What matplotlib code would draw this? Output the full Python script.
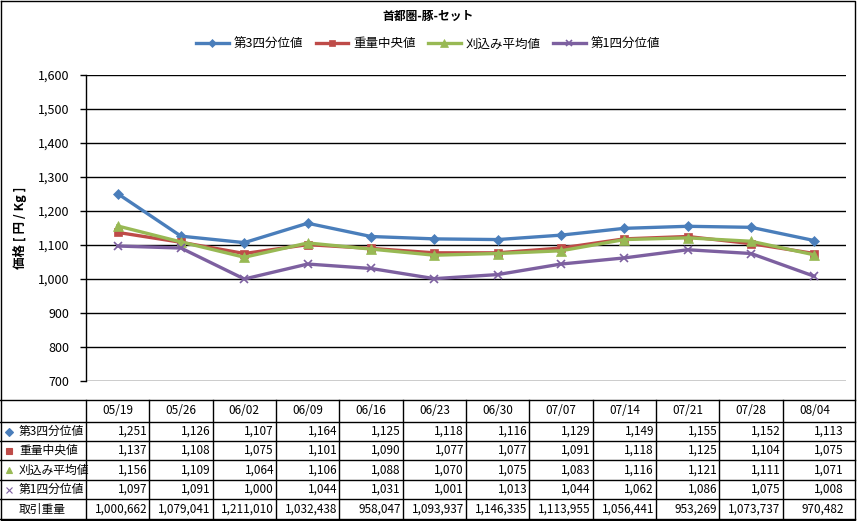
#!/usr/bin/env python

import matplotlib
matplotlib.use("Agg")
import matplotlib.pyplot as plt
from matplotlib.lines import Line2D

plt.rcParams['font.family'] = ['Noto Sans CJK JP', 'DejaVu Sans']

weeks = ["05/19", "05/26", "06/02", "06/09", "06/16", "06/23",
         "06/30", "07/07", "07/14", "07/21", "07/28", "08/04"]
q3 = [1251, 1126, 1107, 1164, 1125, 1118, 1116, 1129, 1149, 1155, 1152, 1113]
median_w = [1137, 1108, 1075, 1101, 1090, 1077, 1077, 1091, 1118, 1125, 1104, 1075]
trim_mean = [1156, 1109, 1064, 1106, 1088, 1070, 1075, 1083, 1116, 1121, 1111, 1071]
q1 = [1097, 1091, 1000, 1044, 1031, 1001, 1013, 1044, 1062, 1086, 1075, 1008]
volume = [1000662, 1079041, 1211010, 1032438, 958047, 1093937,
          1146335, 1113955, 1056441, 953269, 1073737, 970482]

names = ["第3四分位値", "重量中央値", "刈込み平均値", "第1四分位値"]
series = [q3, median_w, trim_mean, q1]
colors = ["#4A7EBB", "#BE4B48", "#98B954", "#7D60A0"]
markers = ["D", "s", "^", "x"]
msizes = [5, 6, 7, 6]

W, H = 857, 521
fig = plt.figure(figsize=(W / 100, H / 100), dpi=100)

# plot area in pixel terms
left, right, top, bottom = 86, 846, 75, 381
ax = fig.add_axes([left / W, 1 - bottom / H, (right - left) / W, (bottom - top) / H])
x = list(range(len(weeks)))
for vals, name, c, m, ms in zip(series, names, colors, markers, msizes):
    ax.plot(x, vals, color=c, lw=2.4, marker=m, ms=ms, mew=1.2 if m == "x" else 0.5,
            mec=c, mfc=c, label=name, zorder=3)

ax.set_xlim(-0.5, len(weeks) - 0.5)
ax.set_ylim(700, 1600)
ax.set_yticks(range(700, 1601, 100))
ax.set_yticklabels([f"{v:,}" for v in range(700, 1601, 100)], fontsize=9)
ax.set_xticks([])
ax.grid(axis="y", color="black", lw=1)
ax.set_axisbelow(True)
for s in ["top", "right", "bottom"]:
    ax.spines[s].set_visible(False)
ax.spines["left"].set_linewidth(1)
ax.tick_params(axis="y", length=4, width=1, pad=8)

fig.text(20 / W, 1 - 228 / H, "価格 [ 円 / Kg ]", ha="center", va="center",
         rotation=90, fontsize=9, fontweight="bold")
fig.text(428 / W, 1 - 16 / H, "首都圏-豚-セット", ha="center", va="center",
         fontsize=8.5, fontweight="bold")
fig.legend(loc="center", bbox_to_anchor=(428 / W, 1 - 44 / H), ncol=4, frameon=False,
           fontsize=9, handlelength=2.6, columnspacing=1.0, handletextpad=0.4,
           markerscale=0.8)

# overlay in pixel coordinates for the data table and the border
ov = fig.add_axes([0, 0, 1, 1], facecolor="none")
ov.set_xlim(0, W)
ov.set_ylim(H, 0)
ov.axis("off")
ov.plot([0.5, W - 2, W - 2, 0.5, 0.5], [0.5, 0.5, H - 1, H - 1, 0.5], color="black", lw=1)

cw = (right - left) / len(weeks)
row_edges = [400, 422, 441, 460, 480, 499, 519]
for y in row_edges:
    ov.plot([0, W - 2], [y, y], color="black", lw=1)
for k in range(len(weeks)):
    xe = left + cw * k
    ov.plot([xe, xe], [row_edges[0], row_edges[-1]], color="black", lw=1)

fs = 8.5
for k, wk in enumerate(weeks):
    xc = left + cw * (k + 0.5)
    ov.text(xc, (row_edges[0] + row_edges[1]) / 2, wk, ha="center", va="center", fontsize=fs)

rows = series + [volume]
labels = names + ["取引重量"]
for r, (vals, lab) in enumerate(zip(rows, labels)):
    yc = (row_edges[r + 1] + row_edges[r + 2]) / 2
    ov.text(19, yc, lab, ha="left", va="center", fontsize=fs)
    if r < len(series):
        ov.add_line(Line2D([9], [yc], marker=markers[r], color=colors[r],
                           ms=4.5 if markers[r] != "x" else 4, mew=0.8, ls="none"))
    for k, v in enumerate(vals):
        xr = left + cw * (k + 1) - 2
        ov.text(xr, yc, f"{v:,}", ha="right", va="center", fontsize=fs)

fig.savefig("out.png", dpi=100)
